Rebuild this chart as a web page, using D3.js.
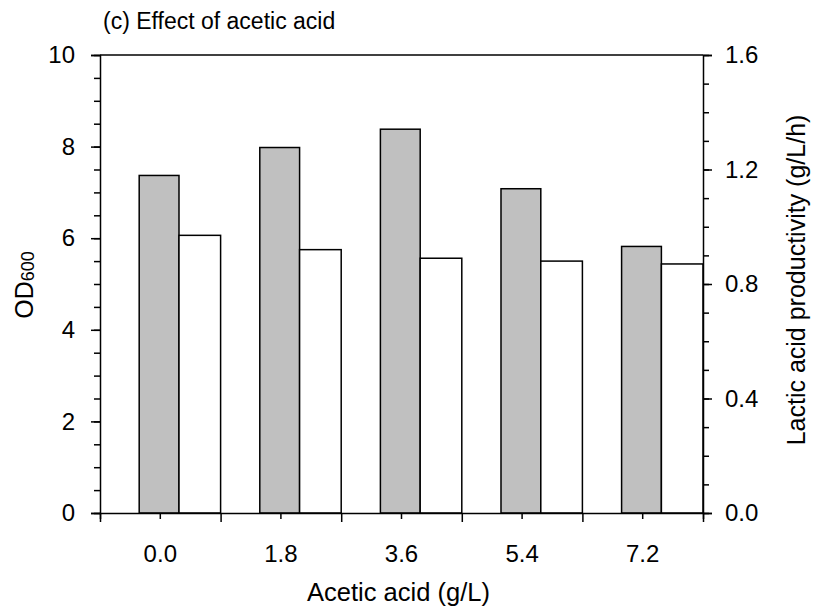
<!DOCTYPE html>
<html>
<head>
<meta charset="utf-8">
<script src="https://cdn.jsdelivr.net/npm/d3@7"></script>
<style>
  body { margin: 0; background: #fff; }
  svg text { font-family: "Liberation Sans", Arial, sans-serif; fill: #000; }
</style>
</head>
<body>
<svg id="chart" width="813" height="614"></svg>
<script>
// acetic acid levels (g/L)
var categories = ["0.0", "1.8", "3.6", "5.4", "7.2"];
// OD600 (left axis, grey bars)
var odValues = [7.37, 7.98, 8.38, 7.08, 5.82];
// lactic acid productivity g/L/h (right axis, white bars)
var prodValues = [0.97, 0.92, 0.89, 0.88, 0.87];
var leftTicks = [0, 2, 4, 6, 8, 10];
var rightTicks = [0, 0.4, 0.8, 1.2, 1.6];

var svg = d3.select("#chart"),
    margin = {top: 55, right: 110, bottom: 101, left: 100},
    width = +svg.attr("width") - margin.left - margin.right,
    height = +svg.attr("height") - margin.top - margin.bottom,
    g = svg.append("g").attr("transform", "translate(" + margin.left + "," + margin.top + ")");

var x = d3.scaleBand().domain(categories).range([0, width]).padding(0);
var yL = d3.scaleLinear().domain([0, 10]).range([height, 0]);
var yR = d3.scaleLinear().domain([0, 1.6]).range([height, 0]);

// bars
g.selectAll(".od").data(odValues).enter().append("rect")
    .attr("x", function(d, i) { return x(categories[i]) + x.bandwidth() * 0.325; })
    .attr("width", x.bandwidth() * 0.33)
    .attr("y", function(d) { return yL(d); })
    .attr("height", function(d) { return height - yL(d); })
    .attr("fill", "#c0c0c0")
    .attr("stroke", "#000")
    .attr("stroke-width", 1.5);

g.selectAll(".prod").data(prodValues).enter().append("rect")
    .attr("x", function(d, i) { return x(categories[i]) + x.bandwidth() * 0.655; })
    .attr("width", x.bandwidth() * 0.345)
    .attr("y", function(d) { return yR(d); })
    .attr("height", function(d) { return height - yR(d); })
    .attr("fill", "#fff")
    .attr("stroke", "#000")
    .attr("stroke-width", 1.5);

// top frame line
g.append("line")
    .attr("x1", 0).attr("x2", width).attr("y1", 0).attr("y2", 0)
    .attr("stroke", "#000").attr("stroke-width", 1.5);

// left axis with minor ticks
g.append("g")
    .call(d3.axisLeft(yL).tickValues(d3.range(0, 10.01, 0.5)).tickSize(6).tickFormat(""))
    .call(function(a) { a.select(".domain").remove(); a.selectAll("line").attr("stroke-width", 1.5); });
var la = g.append("g")
    .call(d3.axisLeft(yL).tickValues(leftTicks).tickSize(9).tickPadding(16).tickFormat(d3.format("d")));
la.select(".domain").attr("stroke-width", 1.5);
la.selectAll("line").attr("stroke-width", 1.5);
la.selectAll("text").style("font-size", "24px");

// right axis with minor ticks
g.append("g")
    .attr("transform", "translate(" + width + ",0)")
    .call(d3.axisRight(yR).tickValues(d3.range(0, 1.601, 0.1)).tickSize(6).tickFormat(""))
    .call(function(a) { a.select(".domain").remove(); a.selectAll("line").attr("stroke-width", 1.5); });
var ra = g.append("g")
    .attr("transform", "translate(" + width + ",0)")
    .call(d3.axisRight(yR).tickValues(rightTicks).tickSize(9).tickPadding(13).tickFormat(d3.format(".1f")));
ra.select(".domain").attr("stroke-width", 1.5);
ra.selectAll("line").attr("stroke-width", 1.5);
ra.selectAll("text").style("font-size", "24px");

// bottom axis: ticks at band edges and centres
var edges = d3.scaleLinear().domain([0, categories.length]).range([0, width]);
g.append("g")
    .attr("transform", "translate(0," + height + ")")
    .call(d3.axisBottom(edges).tickValues(d3.range(0, categories.length + 1)).tickSize(9).tickFormat(""))
    .call(function(a) { a.select(".domain").remove(); a.selectAll("line").attr("stroke-width", 1.5); });
var xa = g.append("g")
    .attr("transform", "translate(0," + height + ")")
    .call(d3.axisBottom(x).tickSize(6).tickPadding(26));
xa.select(".domain").attr("stroke-width", 1.5);
xa.selectAll("line").attr("stroke-width", 1.5);
xa.selectAll("text").style("font-size", "24px");

// titles
svg.append("text")
    .attr("x", 103).attr("y", 29)
    .style("font-size", "23px")
    .text("(c) Effect of acetic acid");

svg.append("text")
    .attr("x", margin.left + width / 2 - 3).attr("y", 601)
    .attr("text-anchor", "middle")
    .style("font-size", "25.5px")
    .text("Acetic acid (g/L)");

var od = svg.append("text")
    .attr("transform", "translate(33," + (margin.top + height / 2 + 1) + ") rotate(-90)")
    .attr("text-anchor", "middle")
    .style("font-size", "25px");
od.append("tspan").text("OD");
od.append("tspan").attr("dy", 1).style("font-size", "18px").text("600");

svg.append("text")
    .attr("transform", "translate(805," + (margin.top + height / 2 - 4) + ") rotate(-90)")
    .attr("text-anchor", "middle")
    .style("font-size", "25px")
    .text("Lactic acid productivity (g/L/h)");
</script>
</body>
</html>
